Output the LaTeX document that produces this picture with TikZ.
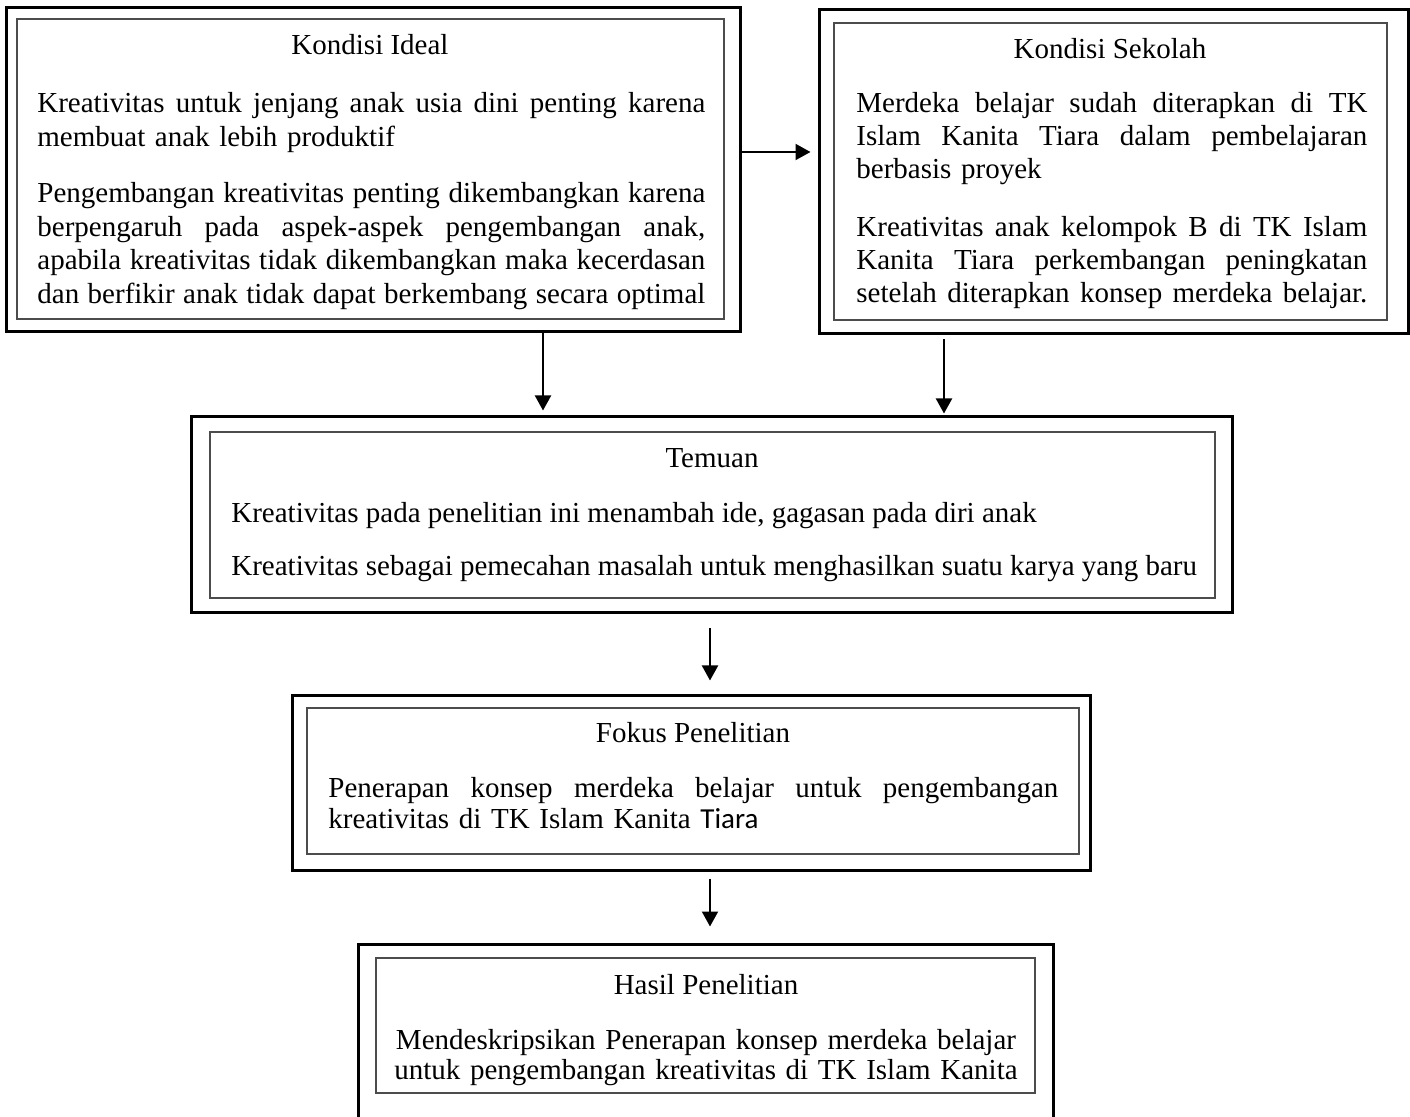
\documentclass[tikz,border=0pt]{standalone}
\usepackage{fontspec}
\setmainfont{Liberation Serif}
\newfontfamily\calibri{Carlito}
\usetikzlibrary{arrows.meta,positioning,calc,fit}

% one justified line of a given width
\newcommand{\jl}[2][334pt]{\leavevmode\hbox to #1{\spaceskip=0.25em plus 1em minus 0.05em\relax #2}}

\begin{document}
\begin{tikzpicture}[x=0.5pt,y=-0.5pt,
  outerbox/.style={draw,line width=1.5pt,inner sep=0pt},
  innerbox/.style={draw=black!70,line width=0.9pt,inner sep=0pt},
  title/.style={inner sep=0pt,anchor=base,font=\fontsize{14.5}{16.5}\selectfont},
  para/.style={inner sep=0pt,anchor=base west,align=left,font=\fontsize{14.5}{16.5}\selectfont},
  arr/.style={-{Triangle[length=7.5pt,width=8pt]},line width=1pt}]
  \useasboundingbox (0,0) rectangle (1410,1117);

  % Top left: ideal condition
  \node[outerbox,fit={(6,8) (740,332)}] (ideal) {};
  \node[innerbox,fit={(17,19) (724,319)}] (idealin) {};
  \node[title] (idealtitle) at (370,55) {Kondisi Ideal};
  \node[para,text width=334pt,font=\fontsize{14.5}{16.9}\selectfont] (ideal1) at (37,113)
    {\jl{Kreativitas untuk jenjang anak usia dini penting karena}\\
     membuat anak lebih produktif};
  \node[para,text width=334pt,font=\fontsize{14.5}{16.67}\selectfont] (ideal2) at (37,203)
    {\jl{Pengembangan kreativitas penting dikembangkan karena}\\
     \jl{berpengaruh pada aspek-aspek pengembangan anak,}\\
     \jl{apabila kreativitas tidak dikembangkan maka kecerdasan}\\
     \jl{dan berfikir anak tidak dapat berkembang secara optimal}};

  % Top right: school condition
  \node[outerbox,fit={(819,10) (1408,334)}] (sekolah) {};
  \node[innerbox,fit={(834,23) (1387,320)}] (sekolahin) {};
  \node[title] (sekolahtitle) at (1110,59) {Kondisi Sekolah};
  \node[para,text width=255.5pt] (sekolah1) at (856,113)
    {\jl[255.5pt]{Merdeka belajar sudah diterapkan di TK}\\
     \jl[255.5pt]{Islam Kanita Tiara dalam pembelajaran}\\
     berbasis proyek};
  \node[para,text width=255.5pt] (sekolah2) at (856,237)
    {\jl[255.5pt]{Kreativitas anak kelompok B di TK Islam}\\
     \jl[255.5pt]{Kanita Tiara perkembangan peningkatan}\\
     \jl[255.5pt]{setelah diterapkan konsep merdeka belajar.}};

  % Middle: findings
  \node[outerbox,fit={(191,417) (1232,613)}] (temuan) {};
  \node[innerbox,fit={(210,432) (1215,598)}] (temuanin) {};
  \node[title] (temuantitle) at (712,468) {Temuan};
  \node[para] (temuan1) at (231,523)
    {Kreativitas pada penelitian ini menambah ide, gagasan pada diri anak};
  \node[para] (temuan2) at (231,576)
    {Kreativitas sebagai pemecahan masalah untuk menghasilkan suatu karya yang baru};

  % Research focus
  \node[outerbox,fit={(292,696) (1090,870)}] (fokus) {};
  \node[innerbox,fit={(307,708) (1079,854)}] (fokusin) {};
  \node[title] (fokustitle) at (693,743) {Fokus Penelitian};
  \node[para,text width=365pt,font=\fontsize{14.5}{15.5}\selectfont] (fokus1) at (328,798)
    {\jl[365pt]{Penerapan konsep merdeka belajar untuk pengembangan}\\
     kreativitas di TK Islam Kanita {\calibri Tiara}};

  % Bottom: research result (runs off the page)
  \node[outerbox,fit={(358,944) (1053,1140)}] (hasil) {};
  \node[innerbox,fit={(376,958) (1035,1093)}] (hasilin) {};
  \node[title] (hasiltitle) at (706,994) {Hasil Penelitian};
  \node[para,anchor=base,align=center,text width=320pt,font=\fontsize{14.5}{15}\selectfont] (hasil1) at (706,1049)
    {Mendeskripsikan Penerapan konsep merdeka belajar\\
     untuk pengembangan kreativitas di TK Islam Kanita};

  % Arrows
  \draw[arr,shorten >=3.5pt] ([yshift=9pt]ideal.east) -- ([yshift=9pt]ideal.east -| sekolah.west);
  \draw[arr,shorten >=2.5pt] ([xshift=85pt]ideal.south) -- ([xshift=85pt]ideal.south |- temuan.north);
  \draw[arr,shorten <=2pt,shorten >=1pt] ([xshift=-84.75pt]sekolah.south) -- ([xshift=-84.75pt]sekolah.south |- temuan.north);
  \draw[arr,shorten <=7pt,shorten >=7pt] ([xshift=-0.75pt]temuan.south) -- ([xshift=-0.75pt]temuan.south |- fokus.north);
  \draw[arr,shorten <=3.5pt,shorten >=8pt] ([xshift=9.5pt]fokus.south) -- ([xshift=9.5pt]fokus.south |- hasil.north);
\end{tikzpicture}
\end{document}
